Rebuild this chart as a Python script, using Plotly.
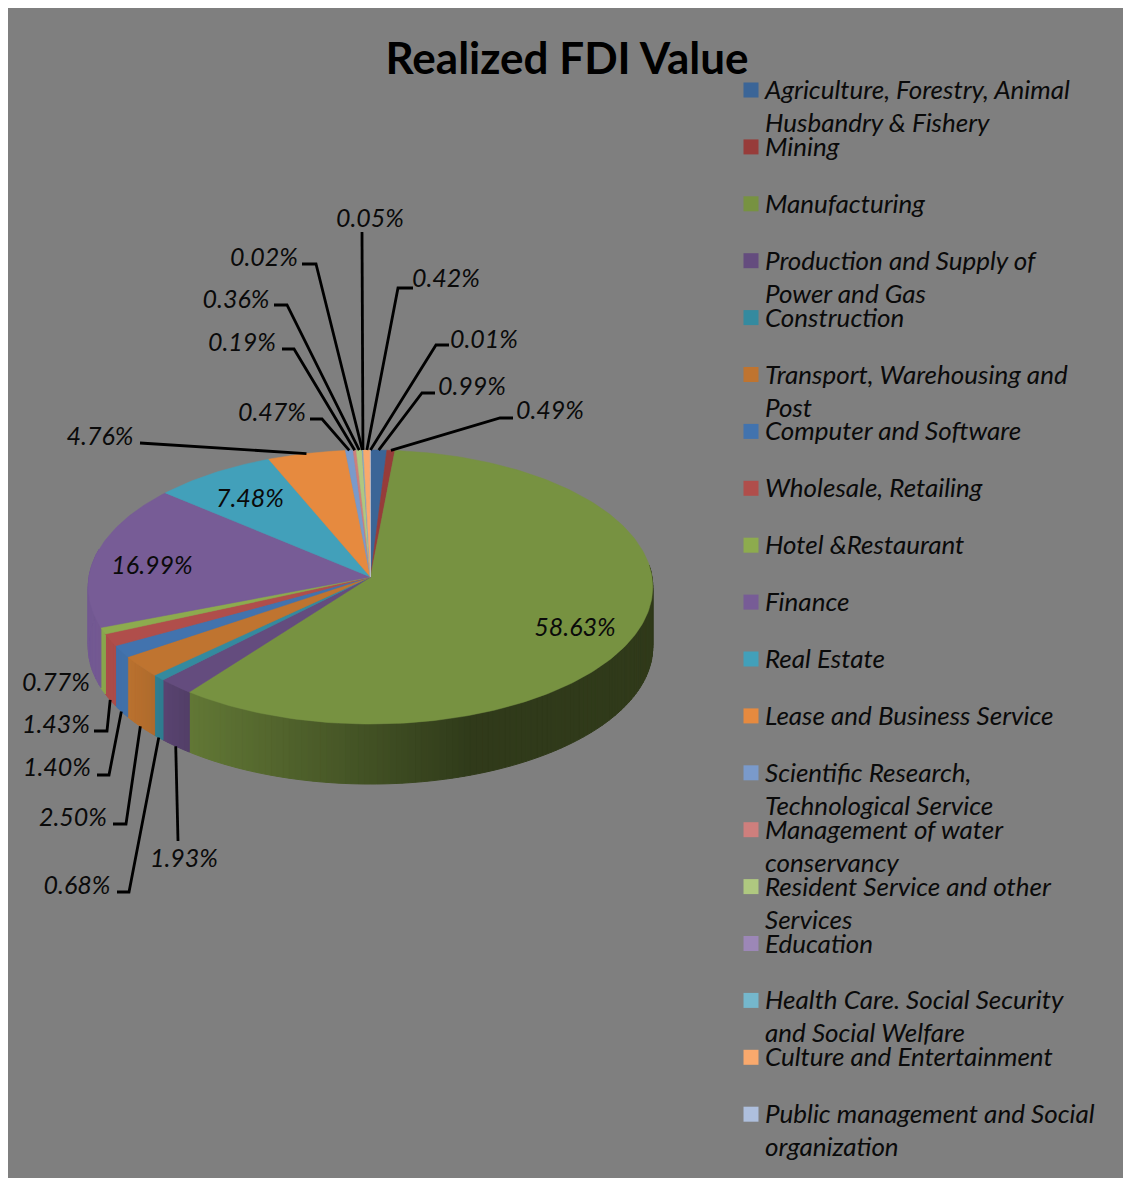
import math
import plotly.graph_objects as go

TITLE = "Realized FDI Value"
CATEGORIES = [
    "Agriculture, Forestry, Animal<br>Husbandry & Fishery", "Mining", "Manufacturing",
    "Production and Supply of<br>Power and Gas", "Construction",
    "Transport, Warehousing and<br>Post", "Computer and Software", "Wholesale, Retailing",
    "Hotel &Restaurant", "Finance", "Real Estate", "Lease and Business Service",
    "Scientific Research,<br>Technological Service", "Management of water<br>conservancy",
    "Resident Service and other<br>Services", "Education",
    "Health Care. Social Security<br>and Social Welfare", "Culture and Entertainment",
    "Public management and Social<br>organization",
]
VALUES = [0.99, 0.49, 58.63, 1.93, 0.68, 2.50, 1.40, 1.43, 0.77, 16.99, 7.48, 4.76,
          0.47, 0.19, 0.36, 0.02, 0.05, 0.42, 0.01]
COLORS = ["#3b6597", "#973c3a", "#779241", "#644c7e", "#348a9f", "#bf7430", "#4273ae",
          "#b04e4b", "#8dab4e", "#775c96", "#42a0ba", "#e68a3f", "#7a9acb", "#ce7f7d",
          "#afc880", "#9c87b7", "#75b7cc", "#f9a96d", "#aebfdd"]

# Layout of the label for each slice: text centre, elbow start, elbow corner
LABEL_XY = [(472, 386), (550, 410), (575, 627), (184, 858), (77, 885), (73, 817), (57, 767),
            (56, 724), (56, 682), (152, 565), (250, 498), (100, 436), (272, 412), (242, 342),
            (236, 299), (264, 257), (370, 218), (446, 278), (484, 339)]
ELBOWS = [((435, 393), (422, 393)), ((513, 418), (500, 418)), None, (None, (178, 841)),
          ((117, 892), (129, 892)), ((113, 824), (126, 824)), ((97, 775), (109, 775)),
          ((94, 731), (107, 731)), None, None, None, (None, (140, 443)),
          ((310, 419), (322, 419)), ((282, 349), (294, 349)), ((274, 305), (287, 305)),
          ((302, 264), (316, 264)), (None, (362, 232)), ((413, 288), (398, 288)),
          ((449, 345), (436, 345))]

CX, CY, A, B, K, DEPTH = 370.5, 577.0, 136.3, 281.5, 0.073, 60.0
FONT = "Lato"
LABEL_SIZE = 25
LEGEND_SIZE = 26
INK = "#0a0a0a"


def rim(theta, drop=0.0):
    u, v = math.sin(theta), math.cos(theta)
    s = 1 / (1 + K * v)
    return CX + B * u * s, CY - A * v * s + drop


def shade(hex_color, f):
    r, g, b = (int(hex_color[i:i + 2], 16) for i in (1, 3, 5))
    return f"rgb({r * f:.0f},{g * f:.0f},{b * f:.0f})"


def wall_factor(x):
    stops = [(0, 0.97), (130, 0.97), (160, 0.9), (190, 0.82), (350, 0.58), (470, 0.4), (2000, 0.4)]
    for (x0, f0), (x1, f1) in zip(stops, stops[1:]):
        if x <= x1:
            return f0 + (f1 - f0) * (x - x0) / (x1 - x0)
    return 0.4


total = sum(VALUES)
bounds = [0.0]
for value in VALUES:
    bounds.append(bounds[-1] + value / total * 2 * math.pi)

fig = go.Figure()

# side wall
LO, HI = math.radians(85), math.radians(282)
for i, color in enumerate(COLORS):
    a0, a1 = max(bounds[i], LO), min(bounds[i + 1], HI)
    if a1 <= a0:
        continue
    n = max(1, int((a1 - a0) / math.radians(1.2)))
    for j in range(n):
        t0 = a0 + (a1 - a0) * j / n
        t1 = a0 + (a1 - a0) * (j + 1) / n
        p = [rim(t0), rim(t1), rim(t1, DEPTH), rim(t0, DEPTH), rim(t0)]
        c = shade(color, wall_factor((p[0][0] + p[1][0]) / 2))
        fig.add_trace(go.Scatter(x=[q[0] for q in p], y=[q[1] for q in p], mode="lines",
                                 fill="toself", fillcolor=c, line=dict(color=c, width=1),
                                 hoverinfo="skip", showlegend=False))

# top face
for i, color in enumerate(COLORS):
    a0, a1 = bounds[i], bounds[i + 1]
    n = max(2, int((a1 - a0) / math.radians(1)))
    arc = [rim(a0 + (a1 - a0) * j / n) for j in range(n + 1)]
    xs = [CX] + [q[0] for q in arc] + [CX]
    ys = [CY] + [q[1] for q in arc] + [CY]
    fig.add_trace(go.Scatter(x=xs, y=ys, mode="lines", fill="toself", fillcolor=color,
                             line=dict(color=color, width=0.5), hoverinfo="text",
                             text=CATEGORIES[i].replace("<br>", " "), showlegend=False))

# leader lines
for i, elbow in enumerate(ELBOWS):
    if elbow is None:
        continue
    mid = (bounds[i] + bounds[i + 1]) / 2
    front = math.pi / 2 < mid < 3 * math.pi / 2
    end = rim(mid, DEPTH if front else 0)
    pts = [q for q in elbow if q is not None] + [end]
    fig.add_trace(go.Scatter(x=[q[0] for q in pts], y=[q[1] for q in pts], mode="lines",
                             line=dict(color="#000000", width=2.8), hoverinfo="skip",
                             showlegend=False))

# data labels
fig.add_trace(go.Scatter(x=[q[0] for q in LABEL_XY], y=[q[1] + 3 for q in LABEL_XY], mode="text",
                         text=[f"<i>{v:.2f}%</i>" for v in VALUES], textposition="middle center",
                         textfont=dict(family=FONT, size=LABEL_SIZE, color=INK),
                         hoverinfo="skip", showlegend=False))

# legend
LEG_TOP, LEG_STEP, LINE_STEP = 90.0, 56.9, 33.0
leg_y = [LEG_TOP + LEG_STEP * i for i in range(len(CATEGORIES))]
fig.add_trace(go.Scatter(x=[751] * len(CATEGORIES), y=leg_y, mode="markers",
                         marker=dict(symbol="square", size=15, color=COLORS, line=dict(width=0)),
                         hoverinfo="skip", showlegend=False))
tx, ty, tt = [], [], []
for y, cat in zip(leg_y, CATEGORIES):
    for k, line in enumerate(cat.split("<br>")):
        tx.append(765)
        ty.append(y + 2.5 + k * LINE_STEP)
        tt.append(f"<i>{line}</i>")
fig.add_trace(go.Scatter(x=tx, y=ty, mode="text", text=tt, textposition="middle right",
                         textfont=dict(family=FONT, size=LEGEND_SIZE, color=INK),
                         hoverinfo="skip", showlegend=False))

fig.add_trace(go.Scatter(x=[567], y=[63], mode="text", text=[f"<b>{TITLE}</b>"],
                         textposition="middle center",
                         textfont=dict(family=FONT, size=44, color="#000000"),
                         hoverinfo="skip", showlegend=False))

fig.update_layout(
    width=1123, height=1178, autosize=False,
    margin=dict(l=8, r=0, t=8, b=0),
    paper_bgcolor="#ffffff", plot_bgcolor="#7f7f7f",
    xaxis=dict(range=[8, 1123], visible=False, fixedrange=True),
    yaxis=dict(range=[1178, 8], visible=False, fixedrange=True),
)
fig.write_html("out.html", config=dict(displayModeBar=False),
               post_script="document.body.style.margin='0';")
